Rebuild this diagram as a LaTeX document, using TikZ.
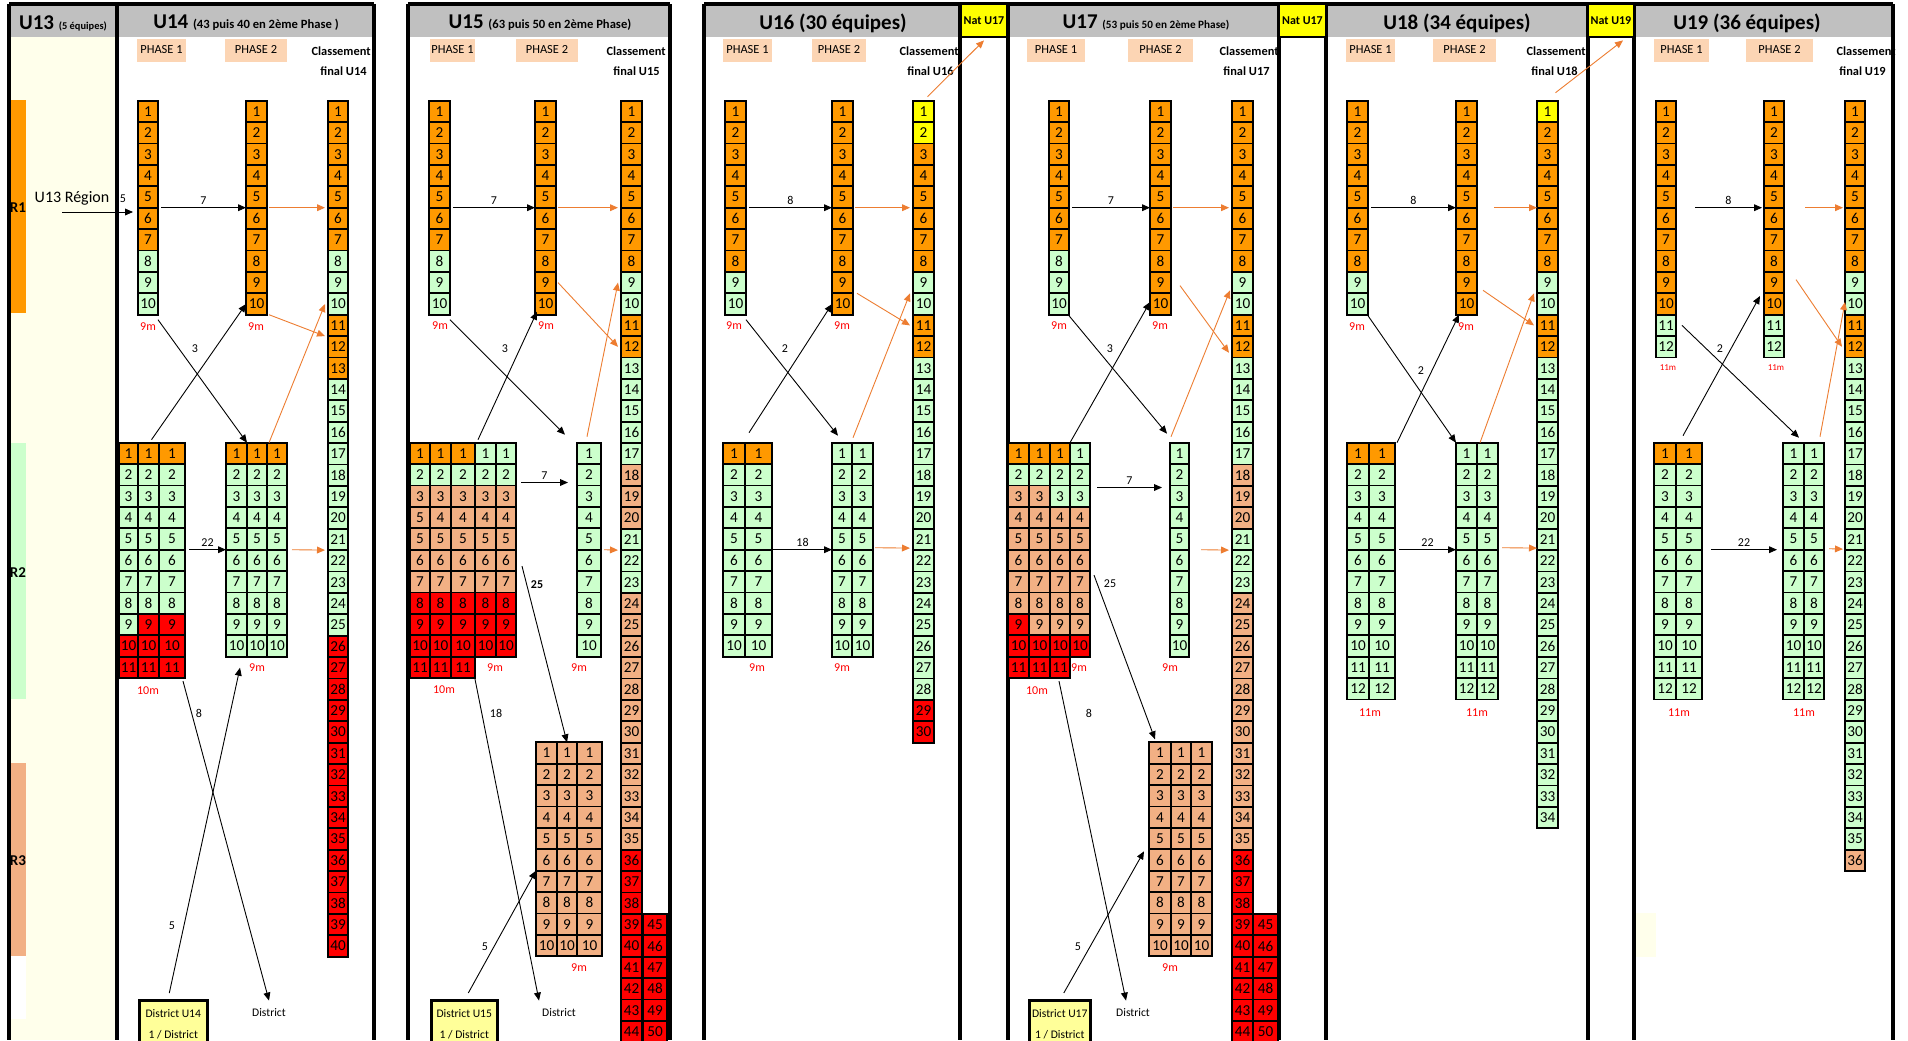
\documentclass[tikz,border=0pt]{standalone}
\usepackage{fontspec}
\setmainfont{Carlito}
\usetikzlibrary{arrows.meta,calc}

\definecolor{corange}{HTML}{FF9900}
\definecolor{cvert}{HTML}{CCFFCC}
\definecolor{cpeche}{HTML}{F2B084}
\definecolor{crouge}{HTML}{FF0000}
\definecolor{cjaune}{HTML}{FFFF00}
\definecolor{cphase}{HTML}{FCD5B4}
\definecolor{cgris}{HTML}{C0C0C0}
\definecolor{ccreme}{HTML}{FFFFEB}
\definecolor{cdistrict}{HTML}{FFFF99}
\definecolor{cfleche}{HTML}{ED7D31}

\newcommand{\fcell}{\fontsize{7.6}{8}\selectfont}
\newcommand{\ftitre}{\fontsize{10.5}{12}\selectfont\bfseries}
\newcommand{\fsous}{\fontsize{6.3}{7}\selectfont}
\newcommand{\fphase}{\fontsize{6.2}{7}\selectfont}
\newcommand{\fetiq}{\fontsize{6}{7}\selectfont}
\newcommand{\fdist}{\fontsize{5.8}{10.5}\selectfont}

% une pile de cases numerotees #5..#6
\newcommand{\casier}[7]{%
  \foreach \k in {#5,...,#6}{%
    \node[cellule, fill=#7, minimum width=#3*0.5pt] (#1-\k) at ({#2+#3/2},{#4+(\k-0.5)*21.4}) {\k};
  }}

\tikzset{
  cellule/.style={draw, line width=0.9pt, minimum height=10.7pt, inner sep=0pt, outer sep=0pt, font=\fcell},
  phase/.style={fill=cphase, minimum width=#1*0.5pt, minimum height=11.5pt, inner sep=0pt, font=\fphase},
  classe/.style={anchor=east, inner sep=0pt, font=\fphase\bfseries},
  titre/.style={inner sep=0pt, font=\ftitre},
  nat/.style={draw, line width=1.4pt, fill=cjaune, minimum width=23.5pt, minimum height=16.5pt, inner sep=0pt, font=\fontsize{6}{7}\selectfont\bfseries},
  region/.style={inner sep=0pt, font=\fontsize{7.5}{8}\selectfont\bfseries},
  district/.style={draw, line width=1.3pt, fill=cdistrict, anchor=north west, minimum width=#1*0.5pt, minimum height=24pt, inner sep=0pt, align=center, font=\fdist},
  lieu/.style={inner sep=0pt, font=\fdist},
  etiq/.style={inner sep=1.5pt, font=\fetiq},
  mois/.style={inner sep=0pt, text=crouge, font=\fetiq},
  fleche/.style={-{Triangle[length=4pt,width=3.4pt]}, line width=0.45pt},
  flecheor/.style={fleche, draw=cfleche},
  bordure/.style={line width=1.6pt}
}

\begin{document}
\begin{tikzpicture}[x=0.5pt, y=-0.5pt]

\useasboundingbox (0,0) rectangle (1908,1040);
\fill[white] (0,0) rectangle (1908,1040);

% fonds et bandeaux
\fill[ccreme] (9,37) rectangle (117,1040);
\fill[corange] (10,100) rectangle (26,313);
\fill[cvert] (10,443) rectangle (26,699);
\fill[cpeche] (10,763) rectangle (26,956);
\fill[white] (10,956) rectangle (26,1019);
\fill[ccreme] (1636,913) rectangle (1656,957);
\fill[cgris] (9,4) rectangle (374,37);
\fill[cgris] (408,4) rectangle (670,37);
\fill[cgris] (704,4) rectangle (1893,37);

\node[region] (r1) at (18,208) {R1};
\node[region] (r2) at (18,573) {R2};
\node[region] (r3) at (18,861) {R3};

\foreach \x in {9,117,374,408,670,704,960,1008,1279,1326,1588,1634,1893}
  \draw[bordure] (\x,4) -- (\x,1040);
\draw[bordure] (9,4) -- (374,4);
\draw[bordure] (408,4) -- (670,4);
\draw[bordure] (704,4) -- (1893,4);

\node[nat] (u16nat) at (984,20.5) {Nat U17};
\node[nat] (u17nat) at (1302.5,20.5) {Nat U17};
\node[nat] (u18nat) at (1611,20.5) {Nat U19};

\node[titre] (t13) at (63,23) {U13 {\fontsize{5.2}{6}\selectfont (5 équipes)}};
\node[titre] (t14) at (246,23) {U14 {\fsous (43 puis 40 en 2ème Phase )}};
\node[titre] (t15) at (540,23) {U15 {\fsous (63 puis 50 en 2ème Phase)}};
\node[titre] (t16) at (833,23) {U16 (30 équipes)};
\node[titre] (t17) at (1146,23) {U17 {\fontsize{5.6}{6}\selectfont (53 puis 50 en 2ème Phase)}};
\node[titre] (t18) at (1457,23) {U18 (34 équipes)};
\node[titre] (t19) at (1747,23) {U19 (36 équipes)};

% en-tetes de phase
\node[phase=49] (u14p1) at (161.5,50) {PHASE 1};
\node[phase=62] (u14p2) at (256,50) {PHASE 2};
\node[classe] (u14cl) at (371,51) {Classement};
\node[classe] (u14fi) at (367,71) {final U14};
\node[phase=45] (u15p1) at (452.5,50) {PHASE 1};
\node[phase=62] (u15p2) at (547,50) {PHASE 2};
\node[classe] (u15cl) at (666,51) {Classement};
\node[classe] (u15fi) at (660,71) {final U15};
\node[phase=49] (u16p1) at (747.5,50) {PHASE 1};
\node[phase=54] (u16p2) at (839,50) {PHASE 2};
\node[classe] (u16cl) at (959,51) {Classement};
\node[classe] (u16fi) at (954,71) {final U16};
\node[phase=58] (u17p1) at (1056,50) {PHASE 1};
\node[phase=65] (u17p2) at (1160.5,50) {PHASE 2};
\node[classe] (u17cl) at (1279,51) {Classement};
\node[classe] (u17fi) at (1270,71) {final U17};
\node[phase=49] (u18p1) at (1370.5,50) {PHASE 1};
\node[phase=63] (u18p2) at (1464.5,50) {PHASE 2};
\node[classe] (u18cl) at (1586,51) {Classement};
\node[classe] (u18fi) at (1578,71) {final U18};
\node[phase=55] (u19p1) at (1681.5,50) {PHASE 1};
\node[phase=67] (u19p2) at (1779.5,50) {PHASE 2};
\node[classe] (u19cl) at (1896,51) {Classement};
\node[classe] (u19fi) at (1886,71) {final U19};

% ---------- U14
\casier{u14a}{138}{20}{100.7}{1}{7}{corange}
\casier{u14a}{138}{20}{100.7}{8}{10}{cvert}
\casier{u14b}{246}{21}{100.7}{1}{10}{corange}
\foreach \a/\b/\c in {1/7/corange,8/10/cvert,11/13/corange,14/25/cvert,26/40/crouge}
  {\casier{u14f}{328}{20}{100.7}{\a}{\b}{\c}}
\casier{u14c1}{119}{19}{442.7}{1}{1}{corange}
\casier{u14c1}{119}{19}{442.7}{2}{9}{cvert}
\casier{u14c1}{119}{19}{442.7}{10}{11}{crouge}
\foreach \n/\x/\w in {2/138/21,3/159/26}{
  \casier{u14c\n}{\x}{\w}{442.7}{1}{1}{corange}
  \casier{u14c\n}{\x}{\w}{442.7}{2}{8}{cvert}
  \casier{u14c\n}{\x}{\w}{442.7}{9}{11}{crouge}}
\foreach \n/\x/\w in {1/226/21,2/247/20,3/267/20}{
  \casier{u14d\n}{\x}{\w}{442.7}{1}{1}{corange}
  \casier{u14d\n}{\x}{\w}{442.7}{2}{10}{cvert}}
\node[district=68] (u14dist) at (138,999) {District U14\\1 / District};
\node[lieu] (u14distr) at (269,1013) {District};
\node[inner sep=0pt, font=\fontsize{8}{9}\selectfont] (u13reg) at (72,198) {U13 Région};
\node[mois] (u14m1) at (148,327) {9m};
\node[mois] (u14m2) at (256,327) {9m};
\node[mois] (u14m3) at (148,691) {10m};
\node[mois] (u14m4) at (257,668) {9m};

\coordinate (u13dep) at (62,212);
\draw[fleche] (u13dep) -- ([shift={(-5,0)}]u13dep -| u14a-6.west);
\node[etiq] (u14l0) at (123,199) {5};
\draw[fleche] ([shift={(3,0)}]u14a-5.south east) -- node[etiq, above] (u14l1) {7} (u14b-5.south west);
\draw[flecheor] ([shift={(2,0)}]u14b-5.south east) -- ([shift={(-3,0)}]u14f-5.south west);
\draw[flecheor] ([shift={(2,0)}]u14b-10.south east) -- ([shift={(-3,0)}]u14f-12.north west);
\draw[fleche] ([shift={(0,5)}]u14a-10.south east) -- (u14d2-1.north west);
\draw[fleche] ([shift={(3,-3)}]u14c2-1.north) -- (u14b-10.west);
\node[etiq] (u14l2) at (195,349) {3};
\draw[flecheor] ([shift={(2,0)}]u14d3-1.north west) -- ([shift={(-3,0)}]u14f-10.west);
\draw[fleche] ([shift={(4,0)}]u14c3-5.south east) -- node[etiq, above] (u14l3) {22} (u14d1-5.south west);
\draw[flecheor] ([shift={(5,0)}]u14d3-5.south east) -- ([shift={(-3,0)}]u14f-21.south west);
\draw[fleche] ([shift={(-2,3)}]u14c3-11.south east) -- ([shift={(0,-8)}]u14distr.north);
\node[etiq] (u14l4) at (199,713) {8};
\draw[fleche] ([shift={(-4,-6)}]u14dist.north) -- ([shift={(-7,11)}]u14d1-10.south east);
\node[etiq] (u14l5) at (172,926) {5};

% ---------- U15
\casier{u15a}{429}{21}{100.7}{1}{7}{corange}
\casier{u15a}{429}{21}{100.7}{8}{10}{cvert}
\casier{u15b}{535}{21}{100.7}{1}{10}{corange}
\foreach \a/\b/\c in {1/8/corange,9/10/cvert,11/12/corange,13/17/cvert,18/20/cpeche,21/23/cvert,24/35/cpeche,36/44/crouge}
  {\casier{u15f}{621}{21}{100.7}{\a}{\b}{\c}}
\casier{u15g}{643}{24}{-27.7}{45}{50}{crouge}
\foreach \n/\x/\w in {1/410/20,2/430/21,3/451/24}{
  \casier{u15c\n}{\x}{\w}{442.7}{1}{1}{corange}
  \casier{u15c\n}{\x}{\w}{442.7}{2}{2}{cvert}
  \casier{u15c\n}{\x}{\w}{442.7}{3}{7}{cpeche}
  \casier{u15c\n}{\x}{\w}{442.7}{8}{11}{crouge}}
\foreach \n/\x/\w in {4/475/21,5/496/20}{
  \casier{u15c\n}{\x}{\w}{442.7}{1}{2}{cvert}
  \casier{u15c\n}{\x}{\w}{442.7}{3}{7}{cpeche}
  \casier{u15c\n}{\x}{\w}{442.7}{8}{10}{crouge}}
\node[cellule, fill=cpeche, minimum width=10pt] (u15c1-4x) at (u15c1-4) {5};
\casier{u15d}{577}{24}{442.7}{1}{10}{cvert}
\foreach \n/\x/\w in {1/536/21,2/557/20,3/577/25}
  {\casier{u15e\n}{\x}{\w}{742.3}{1}{10}{cpeche}}
\node[district=66] (u15dist) at (430,999) {District U15\\1 / District};
\node[lieu] (u15distr) at (559,1013) {District};
\node[mois] (u15m1) at (440,326) {9m};
\node[mois] (u15m2) at (546,326) {9m};
\node[mois] (u15m3) at (495,668) {9m};
\node[mois] (u15m4) at (444,690) {10m};
\node[mois] (u15m5) at (579,668) {9m};
\node[mois] (u15m6) at (579,968) {9m};

\draw[fleche] ([shift={(3,0)}]u15a-5.south east) -- node[etiq, above] (u15l1) {7} (u15b-5.south west);
\draw[flecheor] ([shift={(2,0)}]u15b-5.south east) -- ([shift={(-3,0)}]u15f-5.south west);
\draw[fleche] ([shift={(0,5)}]u15a-10.south east) -- ([shift={(-12,-8)}]u15d-1.north west);
\node[etiq] (u15l2) at (505,349) {3};
\draw[fleche] ([shift={(3,-3)}]u15c4-1.north west) -- ([shift={(2,-3)}]u15b-10.south west);
\draw[flecheor] ([shift={(2,0)}]u15b-9.east) -- ([shift={(-3,0)}]u15f-12.west);
\draw[flecheor] ([shift={(10,-6)}]u15d-1.north west) -- ([shift={(-3,0)}]u15f-9.west);
\draw[fleche] ([shift={(5,-3)}]u15c5-2.south east) -- node[etiq, above] (u15l3) {7} ([shift={(-9,-3)}]u15d-2.south west);
\draw[flecheor] ([shift={(3,0)}]u15d-5.south east) -- ([shift={(-3,0)}]u15f-21.south west);
\draw[fleche] ([shift={(6,-5)}]u15c5-6.south east) -- (u15e2-1.north);
\node[etiq, font=\fetiq\bfseries] (u15l4) at (537,585) {25};
\draw[fleche] ([shift={(0,1)}]u15c3-11.south east) -- ([shift={(-20,-8)}]u15distr.north);
\node[etiq] (u15l5) at (496,713) {18};
\draw[fleche] ([shift={(4,-6)}]u15dist.north) -- (u15e1-6.south west);
\node[etiq] (u15l6) at (485,947) {5};

% ---------- U16
\casier{u16a}{725}{21}{100.7}{1}{8}{corange}
\casier{u16a}{725}{21}{100.7}{9}{10}{cvert}
\casier{u16b}{832}{21}{100.7}{1}{10}{corange}
\foreach \a/\b/\c in {1/2/cjaune,3/8/corange,9/10/cvert,11/12/corange,13/28/cvert,29/30/crouge}
  {\casier{u16f}{913}{21}{100.7}{\a}{\b}{\c}}
\foreach \n/\x/\w in {1/723/22,2/745/27}{
  \casier{u16c\n}{\x}{\w}{442.7}{1}{1}{corange}
  \casier{u16c\n}{\x}{\w}{442.7}{2}{10}{cvert}}
\foreach \n/\x/\w in {1/832/20,2/852/21}
  {\casier{u16d\n}{\x}{\w}{442.7}{1}{10}{cvert}}
\node[mois] (u16m1) at (734,326) {9m};
\node[mois] (u16m2) at (842,326) {9m};
\node[mois] (u16m3) at (757,668) {9m};
\node[mois] (u16m4) at (842,668) {9m};

\draw[fleche] ([shift={(3,0)}]u16a-5.south east) -- node[etiq, above] (u16l1) {8} (u16b-5.south west);
\draw[flecheor] ([shift={(2,0)}]u16b-5.south east) -- ([shift={(-3,0)}]u16f-5.south west);
\draw[fleche] ([shift={(0,5)}]u16a-10.south east) -- ([shift={(6,-7)}]u16d1-1.north west);
\node[etiq] (u16l2) at (785,349) {2};
\draw[fleche] ([shift={(4,-10)}]u16c2-1.north west) -- (u16b-10.west);
\draw[flecheor] ([shift={(1,-5)}]u16d2-1.north west) -- ([shift={(-3,0)}]u16f-9.south west);
\draw[flecheor] ([shift={(4,0)}]u16b-9.south east) -- ([shift={(-3,0)}]u16f-11.west);
\draw[flecheor] ([shift={(4,-4)}]u16f-1.north) -- ([shift={(0,2)}]u16nat.south);
\draw[fleche] ([shift={(1,0)}]u16c2-5.south east) -- node[etiq, above] (u16l3) {18} (u16d1-5.south west);
\draw[flecheor] ([shift={(2,-2)}]u16d2-5.south east) -- ([shift={(-3,-2)}]u16f-21.south west);

% ---------- U17
\casier{u17a}{1049}{20}{100.7}{1}{7}{corange}
\casier{u17a}{1049}{20}{100.7}{8}{10}{cvert}
\casier{u17b}{1150}{21}{100.7}{1}{10}{corange}
\foreach \a/\b/\c in {1/8/corange,9/10/cvert,11/12/corange,13/17/cvert,18/20/cpeche,21/23/cvert,24/35/cpeche,36/44/crouge}
  {\casier{u17f}{1232}{21}{100.7}{\a}{\b}{\c}}
\casier{u17g}{1253}{25}{-27.7}{45}{50}{crouge}
\casier{u17c1}{1008}{21}{442.7}{1}{1}{corange}
\casier{u17c1}{1008}{21}{442.7}{2}{2}{cvert}
\casier{u17c1}{1008}{21}{442.7}{3}{8}{cpeche}
\casier{u17c1}{1008}{21}{442.7}{9}{11}{crouge}
\casier{u17c2}{1029}{21}{442.7}{1}{1}{corange}
\casier{u17c2}{1029}{21}{442.7}{2}{2}{cvert}
\casier{u17c2}{1029}{21}{442.7}{3}{9}{cpeche}
\casier{u17c2}{1029}{21}{442.7}{10}{11}{crouge}
\casier{u17c3}{1050}{20}{442.7}{1}{1}{corange}
\casier{u17c3}{1050}{20}{442.7}{2}{3}{cvert}
\casier{u17c3}{1050}{20}{442.7}{4}{9}{cpeche}
\casier{u17c3}{1050}{20}{442.7}{10}{11}{crouge}
\casier{u17c4}{1070}{20}{442.7}{1}{3}{cvert}
\casier{u17c4}{1070}{20}{442.7}{4}{9}{cpeche}
\casier{u17c4}{1070}{20}{442.7}{10}{10}{crouge}
\casier{u17d}{1170}{19}{442.7}{1}{10}{cvert}
\foreach \n/\x/\w in {1/1149/22,2/1171/20,3/1191/21}
  {\casier{u17e\n}{\x}{\w}{742.3}{1}{10}{cpeche}}
\node[district=61] (u17dist) at (1028,999) {District U17\\1 / District};
\node[lieu] (u17distr) at (1133,1013) {District};
\node[mois] (u17m1) at (1059,326) {9m};
\node[mois] (u17m2) at (1160,326) {9m};
\node[mois] (u17m3) at (1079,668) {9m};
\node[mois] (u17m4) at (1037,691) {10m};
\node[mois] (u17m5) at (1170,668) {9m};
\node[mois] (u17m6) at (1170,968) {9m};

\draw[fleche] ([shift={(3,0)}]u17a-5.south east) -- node[etiq, above] (u17l1) {7} (u17b-5.south west);
\draw[flecheor] ([shift={(2,0)}]u17b-5.south east) -- ([shift={(-3,0)}]u17f-5.south west);
\draw[fleche] ([shift={(0,1)}]u17a-10.south east) -- ([shift={(-3,-9)}]u17d-1.north west);
\node[etiq] (u17l2) at (1110,349) {3};
\draw[fleche] (u17c4-1.north west) -- ([shift={(0,-2)}]u17b-10.west);
\draw[flecheor] ([shift={(9,3)}]u17b-9.east) -- ([shift={(-3,6)}]u17f-12.west);
\draw[flecheor] ([shift={(1,-6)}]u17d-1.north west) -- ([shift={(-2,-3)}]u17f-9.south west);
\draw[fleche] ([shift={(7,2)}]u17c4-2.south east) -- node[etiq, above] (u17l3) {7} ([shift={(-8,2)}]u17d-2.south west);
\draw[flecheor] ([shift={(12,0)}]u17d-5.south east) -- ([shift={(-3,0)}]u17f-21.south west);
\draw[fleche] ([shift={(4,4)}]u17c4-6.south east) -- ([shift={(-5,-3)}]u17e1-1.north);
\node[etiq] (u17l4) at (1110,584) {25};
\draw[fleche] ([shift={(-1,3)}]u17c3-11.south) -- ([shift={(-7,-8)}]u17distr.north);
\node[etiq] (u17l5) at (1089,713) {8};
\draw[fleche] ([shift={(4,-6)}]u17dist.north) -- ([shift={(-5,2)}]u17e1-6.north west);
\node[etiq] (u17l6) at (1078,947) {5};

% ---------- U18
\casier{u18a}{1347}{21}{100.7}{1}{8}{corange}
\casier{u18a}{1347}{21}{100.7}{9}{10}{cvert}
\casier{u18b}{1456}{21}{100.7}{1}{10}{corange}
\foreach \a/\b/\c in {1/1/cjaune,2/8/corange,9/10/cvert,11/12/corange,13/34/cvert}
  {\casier{u18f}{1537}{21}{100.7}{\a}{\b}{\c}}
\foreach \n/\x/\w in {1/1347/22,2/1369/26}{
  \casier{u18c\n}{\x}{\w}{442.7}{1}{1}{corange}
  \casier{u18c\n}{\x}{\w}{442.7}{2}{12}{cvert}}
\foreach \n/\x/\w in {1/1456/21,2/1477/21}
  {\casier{u18d\n}{\x}{\w}{442.7}{1}{12}{cvert}}
\node[mois] (u18m1) at (1357,327) {9m};
\node[mois] (u18m2) at (1466,327) {9m};
\node[mois] (u18m3) at (1370,713) {11m};
\node[mois] (u18m4) at (1477,713) {11m};

\draw[fleche] ([shift={(3,0)}]u18a-5.south east) -- node[etiq, above] (u18l1) {8} (u18b-5.south west);
\draw[flecheor] ([shift={(17,0)}]u18b-5.south east) -- (u18f-5.south west);
\draw[flecheor] ([shift={(6,-3)}]u18b-9.south east) -- ([shift={(-3,0)}]u18f-11.west);
\draw[flecheor] ([shift={(3,0)}]u18d2-1.north west) -- ([shift={(-3,0)}]u18f-9.south west);
\draw[fleche] ([shift={(0,1)}]u18a-10.south east) -- (u18d1-1.north west);
\node[etiq] (u18l2) at (1421,371) {2};
\draw[fleche] ([shift={(2,0)}]u18c2-1.north east) -- ([shift={(3,0)}]u18b-10.south west);
\draw[fleche] ([shift={(4,0)}]u18c2-5.south east) -- node[etiq, above] (u18l3) {22} (u18d1-5.south west);
\draw[flecheor] ([shift={(4,-2)}]u18d2-5.south east) -- ([shift={(0,-2)}]u18f-21.south west);
\draw[flecheor] ([shift={(8,-8)}]u18f-1.north) -- ([shift={(12,2)}]u18nat.south);

% ---------- U19
\casier{u19a}{1656}{20}{100.7}{1}{10}{corange}
\casier{u19a}{1656}{20}{100.7}{11}{12}{cvert}
\casier{u19b}{1764}{20}{100.7}{1}{10}{corange}
\casier{u19b}{1764}{20}{100.7}{11}{12}{cvert}
\foreach \a/\b/\c in {1/8/corange,9/10/cvert,11/12/corange,13/35/cvert,36/36/cpeche}
  {\casier{u19f}{1845}{20}{100.7}{\a}{\b}{\c}}
\foreach \n/\x/\w in {1/1654/22,2/1676/26}{
  \casier{u19c\n}{\x}{\w}{442.7}{1}{1}{corange}
  \casier{u19c\n}{\x}{\w}{442.7}{2}{12}{cvert}}
\foreach \n/\x/\w in {1/1783/21,2/1804/20}
  {\casier{u19d\n}{\x}{\w}{442.7}{1}{12}{cvert}}
\node[mois, font=\fontsize{4.5}{5}\selectfont] (u19m1) at (1668,368) {11m};
\node[mois, font=\fontsize{4.5}{5}\selectfont] (u19m2) at (1776,368) {11m};
\node[mois] (u19m3) at (1679,713) {11m};
\node[mois] (u19m4) at (1804,713) {11m};

\draw[fleche] ([shift={(19,0)}]u19a-5.south east) -- node[etiq, above] (u19l1) {8} ([shift={(-2,0)}]u19b-5.south west);
\draw[flecheor] ([shift={(21,0)}]u19b-5.south east) -- ([shift={(-2,0)}]u19f-5.south west);
\draw[fleche] ([shift={(6,0)}]u19a-11.east) -- ([shift={(16,-5)}]u19d1-1.north west);
\node[etiq] (u19l2) at (1720,349) {2};
\draw[fleche] ([shift={(7,-7)}]u19c2-1.north west) -- ([shift={(-4,-8)}]u19b-10.west);
\draw[flecheor] ([shift={(12,-3)}]u19b-9.east) -- ([shift={(-3,0)}]u19f-12.west);
\draw[flecheor] ([shift={(16,-6)}]u19d2-1.north west) -- ([shift={(0,-2)}]u19f-10.west);
\draw[fleche] ([shift={(9,0)}]u19c2-5.south east) -- node[etiq, above] (u19l3) {22} ([shift={(-6,0)}]u19d1-5.south west);
\draw[flecheor] ([shift={(5,-1)}]u19d2-5.south east) -- ([shift={(-2,-1)}]u19f-21.south west);
\end{tikzpicture}
\end{document}
